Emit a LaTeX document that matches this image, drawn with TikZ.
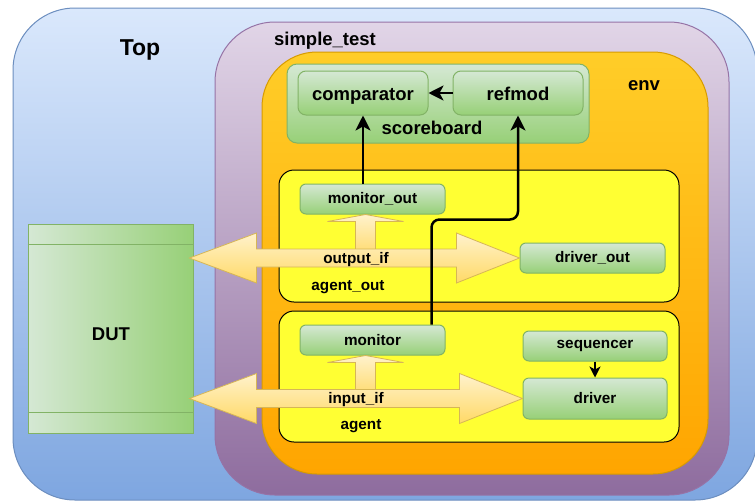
\documentclass[tikz,border=0pt]{standalone}
\usepackage{fontspec}
\setmainfont{Liberation Sans}
\usetikzlibrary{positioning, calc, arrows.meta}
\definecolor{topline}{HTML}{6C8EBF}
\definecolor{toptop}{HTML}{DAE8FC}
\definecolor{topbot}{HTML}{7EA6E0}
\definecolor{testline}{HTML}{9673A6}
\definecolor{testtop}{HTML}{E1D5E7}
\definecolor{testbot}{HTML}{8E6C9E}
\definecolor{envline}{HTML}{D79B00}
\definecolor{envtop}{HTML}{FFCD28}
\definecolor{envbot}{HTML}{FFA500}
\definecolor{greenline}{HTML}{82B366}
\definecolor{greentop}{HTML}{D5E8D4}
\definecolor{greenbot}{HTML}{97D077}
\definecolor{agentyellow}{HTML}{FFFF33}
\definecolor{arrowline}{HTML}{D6B656}
\definecolor{arrowtop}{HTML}{FFF2CC}
\definecolor{arrowbot}{HTML}{FFD966}
\tikzset{
	boxtext/.style={font=\fontsize{15.3}{18}\selectfont\bfseries}
}
\tikzset{
	bigtext/.style={font=\fontsize{18.5}{22}\selectfont\bfseries}
}
\tikzset{
	greenbox/.style={draw=greenline, top color=greentop, bottom color=greenbot,
		rounded corners=6pt, line width=1pt, inner sep=0pt, boxtext},
	agentbox/.style={draw=black, fill=agentyellow, rounded corners=15pt,
		line width=1pt, minimum width=400pt},
	bigarrow/.style={draw=arrowline, top color=arrowtop, bottom color=arrowbot,
		line width=0.8pt},
	conn/.style={line width=2.5pt, -{Stealth[length=15pt,width=15pt,inset=4pt]}}
}

\begin{document}
\begin{tikzpicture}[x=1pt,y=-1pt]
  \useasboundingbox (0,0) rectangle (755,501);
  % nested containers
  \node[draw=topline, top color=toptop, bottom color=topbot, line width=1pt,
    rounded corners=62pt, minimum width=744pt, minimum height=492pt] (top) at (385,254) {};
  \node[draw=testline, top color=testtop, bottom color=testbot, line width=1pt,
    rounded corners=60pt, minimum width=514pt, minimum height=473pt] (simple_test) at (472,258.5) {};
  \node[draw=envline, top color=envtop, bottom color=envbot, line width=1pt,
    rounded corners=55pt, minimum width=446pt, minimum height=422pt] (env) at (485,263) {};
  \node[bigtext, font=\fontsize{23}{26}\selectfont\bfseries] (toplabel) at (140,50) {Top};
  \node[bigtext] (testlabel) at (325,41) {simple\_test};
  \node[bigtext] (envlabel) at (644,86) {env};

  % scoreboard
  \node[greenbox, rounded corners=10pt, minimum width=302pt, minimum height=79pt] (scoreboard) at (438,103.5) {};
  \node[greenbox, rounded corners=8pt, bigtext, text height=15pt, text depth=0pt,
    minimum width=130pt, minimum height=44pt] (comparator) at (363,93) {comparator};
  \node[greenbox, rounded corners=8pt, bigtext, text height=15pt, text depth=0pt,
    minimum width=130pt, minimum height=44pt] (refmod) at (518,93) {refmod};
  \node[bigtext] (sblabel) at (432,128) {scoreboard};

  % agents
  \node[agentbox, minimum height=132pt] (agent_out) at (479,236) {};
  \node[agentbox, minimum height=131pt] (agent) at (479,376.5) {};
  \node[greenbox, minimum width=145pt, minimum height=30pt] (monitor_out) at (372.5,199) {monitor\_out};
  \node[greenbox, minimum width=145pt, minimum height=30pt] (driver_out) at (592.5,258) {driver\_out};
  \node[greenbox, minimum width=145pt, minimum height=30pt] (monitor) at (372.5,340) {monitor};
  \node[greenbox, minimum width=144pt, minimum height=30pt] (sequencer) at (595,346) {sequencer};
  \node[greenbox, minimum width=144pt, minimum height=41pt] (driver) at (595,398.5) {driver};
  \node[boxtext] (aolabel) at (348,287) {agent\_out};
  \node[boxtext] (alabel) at (361,426) {agent};

  % DUT
  \node[draw=greenline, left color=greentop, right color=greenbot, line width=1pt,
    minimum width=165pt, minimum height=209pt] (dut) at (110.5,328.5) {};
  \draw[greenline, line width=1pt] ($(dut.north west)+(0,21)$) -- ($(dut.north east)+(0,21)$);
  \draw[greenline, line width=1pt] ($(dut.south west)+(0,-21)$) -- ($(dut.south east)+(0,-21)$);
  \node[bigtext] (dutlabel) at (111,334) {DUT};

  % interfaces
  \foreach \r/\m in {driver_out/monitor_out, driver/monitor}{
    \coordinate (up) at ($(\m.south)+(-7,0)$);
    \coordinate (mid) at (up |- \r.west);
    \draw[bigarrow] ($(mid)+(-10,0)$) -- ($(up)+(-10,7)$) -- ++(-28,0) -- (up)
      -- ++(38,7) -- ++(-28,0) -- ($(mid)+(10,0)$) -- cycle;
    \coordinate (tipl) at ($(dut.east |- \r.west)+(-4,0)$);
    \draw[bigarrow] (tipl) -- ++(67,-25) -- ++(0,16) -- ($(\r.west)+(-63,-9)$)
      -- ++(0,-16) -- (\r.west) -- ++(-63,25) -- ++(0,-16) -- ($(tipl)+(67,9)$)
      -- ++(0,16) -- cycle;
  }
  \node[boxtext] (output_if) at (356,260) {output\_if};
  \node[boxtext] (input_if) at (356,400) {input\_if};

  % connections
  \draw[conn] (comparator.south |- monitor_out.north) -- (comparator.south);
  \draw[conn, rounded corners=8pt] ($(monitor.north east)+(-14,0)$) -- ++(0,-105)
    -| (refmod.south);
  \draw[conn] (refmod.west) -- (comparator.east);
  \draw[line width=1.5pt, -{Stealth[length=11pt,width=11pt,inset=3pt]}] (sequencer) -- (driver);
\end{tikzpicture}
\end{document}
